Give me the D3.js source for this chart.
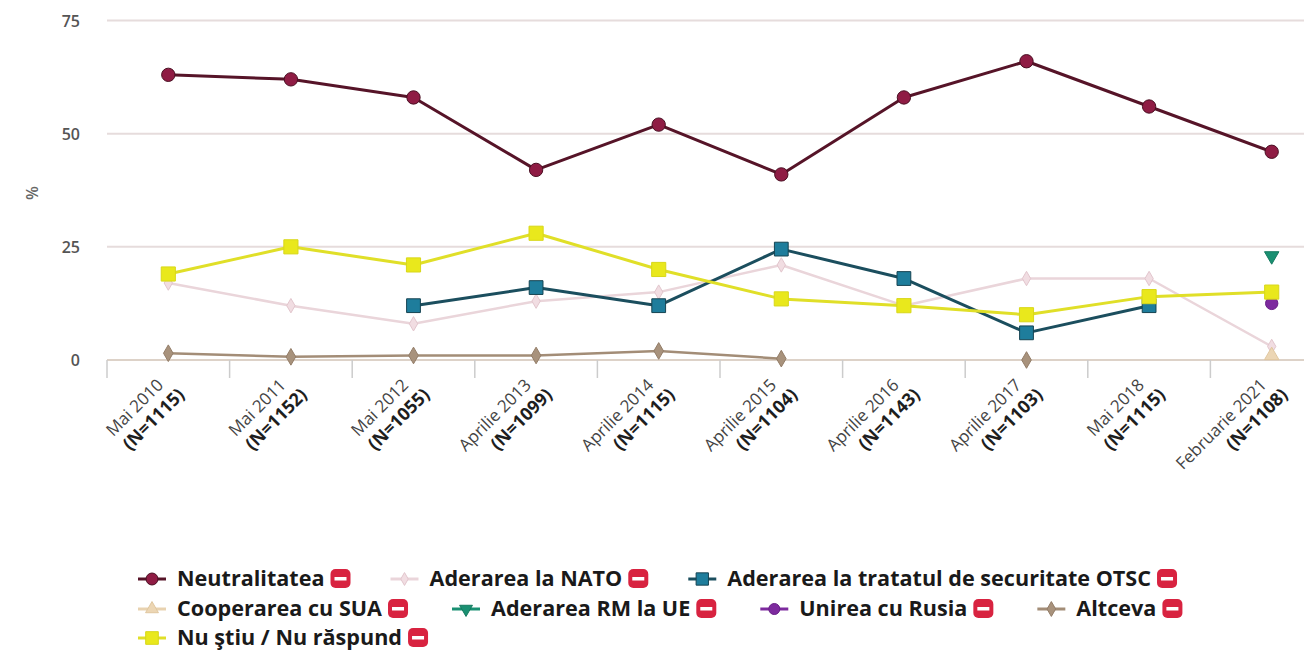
<!DOCTYPE html>
<html>
<head>
<meta charset="utf-8">
<script src="https://cdn.jsdelivr.net/npm/d3@7"></script>
<style>
  html, body { margin: 0; padding: 0; background: #ffffff; }
  svg { display: block; }
</style>
</head>
<body>
<svg id="chart" width="1304" height="664"></svg>
<script>
// ---------------- DATA ----------------
const categories = ["Mai 2010", "Mai 2011", "Mai 2012", "Aprilie 2013", "Aprilie 2014",
                    "Aprilie 2015", "Aprilie 2016", "Aprilie 2017", "Mai 2018", "Februarie 2021"];
const sampleSizes = ["(N=1115)", "(N=1152)", "(N=1055)", "(N=1099)", "(N=1115)",
                     "(N=1104)", "(N=1143)", "(N=1103)", "(N=1115)", "(N=1108)"];
const yTicks = [0, 25, 50, 75];
const yAxisTitle = "%";

const neutralitatea  = [63, 62, 58, 42, 52, 41, 58, 66, 56, 46];
const aderareaNATO   = [17, 12, 8, 13, 15, 21, 12, 18, 18, 3];
const aderareaOTSC   = [null, null, 12, 16, 12, 24.5, 18, 6, 12, null];
const cooperareaSUA  = [null, null, null, null, null, null, null, null, null, 1];
const aderareaUE     = [null, null, null, null, null, null, null, null, null, 23];
const unireaRusia    = [null, null, null, null, null, null, null, null, null, 12.5];
const altceva        = [1.5, 0.7, 1, 1, 2, 0.3, null, 0, null, null];
const nuStiu         = [19, 25, 21, 28, 20, 13.5, 12, 10, 14, 15];

const seriesNames = ["Neutralitatea", "Aderarea la NATO", "Aderarea la tratatul de securitate OTSC",
                     "Cooperarea cu SUA", "Aderarea RM la UE", "Unirea cu Rusia", "Altceva",
                     "Nu ştiu / Nu răspund"];
const seriesValues = [neutralitatea, aderareaNATO, aderareaOTSC, cooperareaSUA,
                      aderareaUE, unireaRusia, altceva, nuStiu];

// ---------------- STYLE ----------------
const styles = [
  { line: "#561428", fill: "#8f1c44", stroke: "#4a0f22", symbol: d3.symbolCircle, size: 140, width: 3 },
  { line: "#ead5da", fill: "#f1dde2", stroke: "#e2c6cd", symbol: d3.symbolDiamond, size: 60, width: 2.5 },
  { line: "#1b4e5e", fill: "#1e7d9c", stroke: "#164452", symbol: d3.symbolSquare, size: 190, width: 3 },
  { line: "#e8d2b0", fill: "#ecd6b4", stroke: "#e0c79f", symbol: d3.symbolTriangle, size: 90, width: 2.5 },
  { line: "#1a9072", fill: "#1a9072", stroke: "#157a60", symbol: d3.symbolTriangle, size: 90, width: 2.5, rotate: 180 },
  { line: "#7d2a9e", fill: "#7d2a9e", stroke: "#6a2088", symbol: d3.symbolCircle, size: 120, width: 2.5 },
  { line: "#a38d77", fill: "#a8927c", stroke: "#937d68", symbol: d3.symbolDiamond, size: 80, width: 2.5 },
  { line: "#e0df28", fill: "#e9e81c", stroke: "#d8d71a", symbol: d3.symbolSquare, size: 200, width: 3 }
];

// ---------------- LAYOUT ----------------
const svg = d3.select("#chart");
const plotLeft = 107, bandW = 122.6;
const yZero = 360, yTop = 20.5;

const x = d3.scaleBand().domain(categories).range([plotLeft, plotLeft + bandW * categories.length]).padding(0);
const y = d3.scaleLinear().domain([0, 75]).range([yZero, yTop]);
const cx = c => x(c) + x.bandwidth() / 2;

// grid lines
svg.append("g").selectAll("line").data(yTicks.filter(t => t > 0)).join("line")
  .attr("x1", plotLeft).attr("x2", 1304)
  .attr("y1", d => y(d)).attr("y2", d => y(d))
  .attr("stroke", "#e6dcdc").attr("stroke-width", 2);

// y axis labels
svg.append("g").selectAll("text").data(yTicks).join("text")
  .attr("x", 80).attr("y", d => y(d) + 6)
  .attr("text-anchor", "end")
  .attr("font-family", "Open Sans, sans-serif").attr("font-size", 16).attr("font-weight", 600)
  .attr("fill", "#555").text(d => d);

svg.append("text")
  .attr("transform", `translate(${38},${193}) rotate(-90)`)
  .attr("text-anchor", "middle")
  .attr("font-family", "Open Sans, sans-serif").attr("font-size", 16).attr("font-weight", 600)
  .attr("fill", "#666").text(yAxisTitle);

// x axis line and ticks (between categories)
svg.append("line").attr("x1", plotLeft).attr("x2", 1304).attr("y1", yZero).attr("y2", yZero)
  .attr("stroke", "#ddd2c8").attr("stroke-width", 2);
const tickPos = categories.map(c => x(c)).concat([x.range()[1]]);
svg.append("g").selectAll("line").data(tickPos).join("line")
  .attr("x1", d => d).attr("x2", d => d).attr("y1", yZero).attr("y2", yZero + 18)
  .attr("stroke", "#ccc").attr("stroke-width", 1.5);

// x labels
const xl = svg.append("g").selectAll("g").data(categories).join("g")
  .attr("transform", d => `translate(${cx(d) - 4},${yZero + 26}) rotate(-45)`);
xl.append("text").attr("text-anchor", "end")
  .attr("font-family", "Open Sans, sans-serif").attr("font-size", 17)
  .attr("fill", "#444").text(d => d);
xl.append("text").attr("text-anchor", "end").attr("x", 8).attr("y", 22)
  .attr("font-family", "Open Sans, sans-serif").attr("font-size", 18).attr("font-weight", 700)
  .attr("fill", "#1e1e1e").text((d, i) => sampleSizes[i]);

// series
const lineGen = d3.line().defined(d => d.v != null).x(d => cx(d.c)).y(d => y(d.v));
seriesValues.forEach((vals, si) => {
  const st = styles[si];
  const pts = vals.map((v, i) => ({ c: categories[i], v }));
  const g = svg.append("g");
  g.append("path").datum(pts).attr("d", lineGen)
    .attr("fill", "none").attr("stroke", st.line).attr("stroke-width", st.width)
    .attr("stroke-linejoin", "round");
  g.selectAll("path.m").data(pts.filter(p => p.v != null)).join("path").attr("class", "m")
    .attr("d", d3.symbol().type(st.symbol).size(st.size))
    .attr("transform", d => `translate(${cx(d.c)},${y(d.v)}) rotate(${st.rotate || 0})`)
    .attr("fill", st.fill).attr("stroke", st.stroke).attr("stroke-width", 1);
});

// legend
const legendRows = [[0, 1, 2], [3, 4, 5, 6], [7]];
const rowY = [579, 609, 638];
const rowGap = [40, 44, 40];
const lg = svg.append("g");
legendRows.forEach((row, ri) => {
  let xpos = 138;
  row.forEach(si => {
    const st = styles[si];
    const it = lg.append("g").attr("transform", `translate(${xpos},${rowY[ri]})`);
    it.append("line").attr("x1", 0).attr("x2", 28).attr("y1", 0).attr("y2", 0)
      .attr("stroke", st.line).attr("stroke-width", 3);
    it.append("path").attr("d", d3.symbol().type(st.symbol).size(st.size * 0.8))
      .attr("transform", `translate(14,0) rotate(${st.rotate || 0})`)
      .attr("fill", st.fill).attr("stroke", st.stroke).attr("stroke-width", 1);
    const t = it.append("text").attr("x", 39).attr("y", 7)
      .attr("font-family", "Open Sans, sans-serif").attr("font-size", 21.6).attr("font-weight", 700)
      .attr("fill", "#1a1a1a").text(seriesNames[si]);
    const tw = t.node().getComputedTextLength();
    const bx = 39 + tw + 6;
    it.append("rect").attr("x", bx).attr("y", -10).attr("width", 20).attr("height", 19)
      .attr("rx", 5).attr("fill", "#d82340");
    it.append("rect").attr("x", bx + 4).attr("y", -2).attr("width", 12).attr("height", 3.5)
      .attr("fill", "#ffffff");
    xpos += bx + 20 + rowGap[ri];
  });
});
</script>
</body>
</html>
